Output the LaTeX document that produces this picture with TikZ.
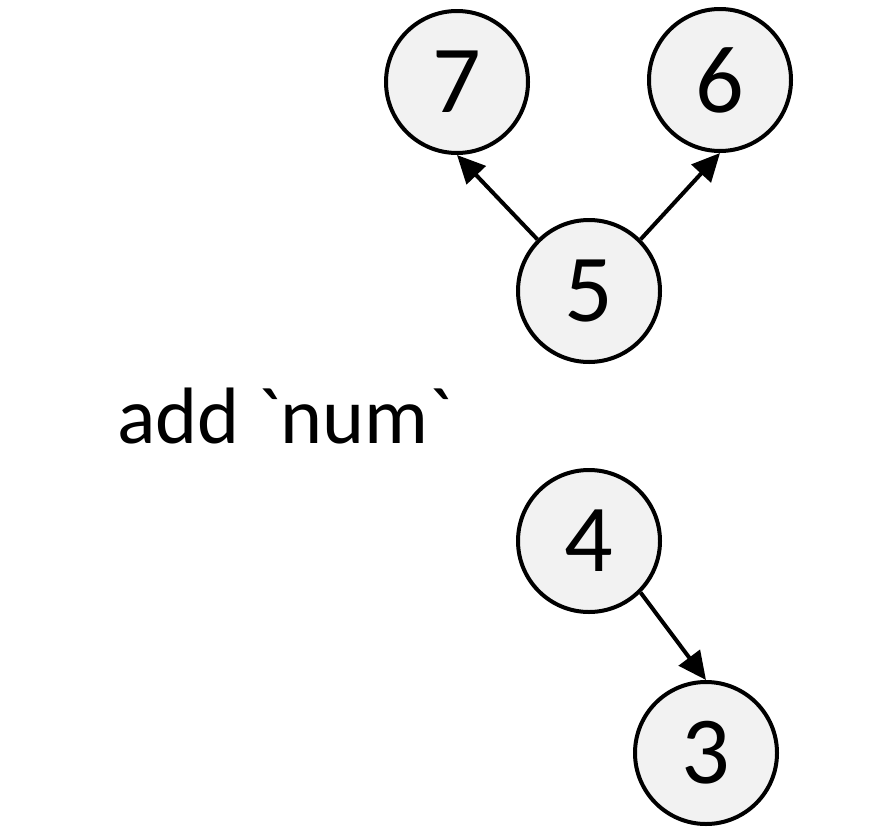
\documentclass[tikz,border=0pt]{standalone}
\usepackage{fontspec}
\setmainfont{Carlito}[Ligatures=TeXOff]
\usetikzlibrary{arrows.meta}
\definecolor{nodefill}{HTML}{F2F2F2}
\tikzset{
  treenode/.style={circle, draw=black, line width=4pt, fill=nodefill, minimum size=142pt, inner sep=0pt, font=\fontsize{96}{96}\selectfont},
  edge/.style={line width=4pt, -{Triangle[length=28pt,width=26pt]}}
}
\begin{document}
\begin{tikzpicture}[x=1pt,y=-1pt]
\useasboundingbox (0,0) rectangle (886,830);
\node[treenode] (n7) at (457,82) {7};
\node[treenode] (n6) at (720,80) {6};
\node[treenode] (n5) at (589,291) {5};
\node[treenode] (n4) at (589,541) {4};
\node[treenode] (n3) at (706,753) {3};
\node[anchor=base west, inner sep=0pt, font=\fontsize{80}{80}\selectfont] (lbl) at (117,443) {add `num`};
\draw[edge] (n5.135) -- (n7.south);
\draw[edge] (n5.45) -- (n6.south);
\draw[edge] (n4.-45) -- (n3.north);
\end{tikzpicture}
\end{document}
